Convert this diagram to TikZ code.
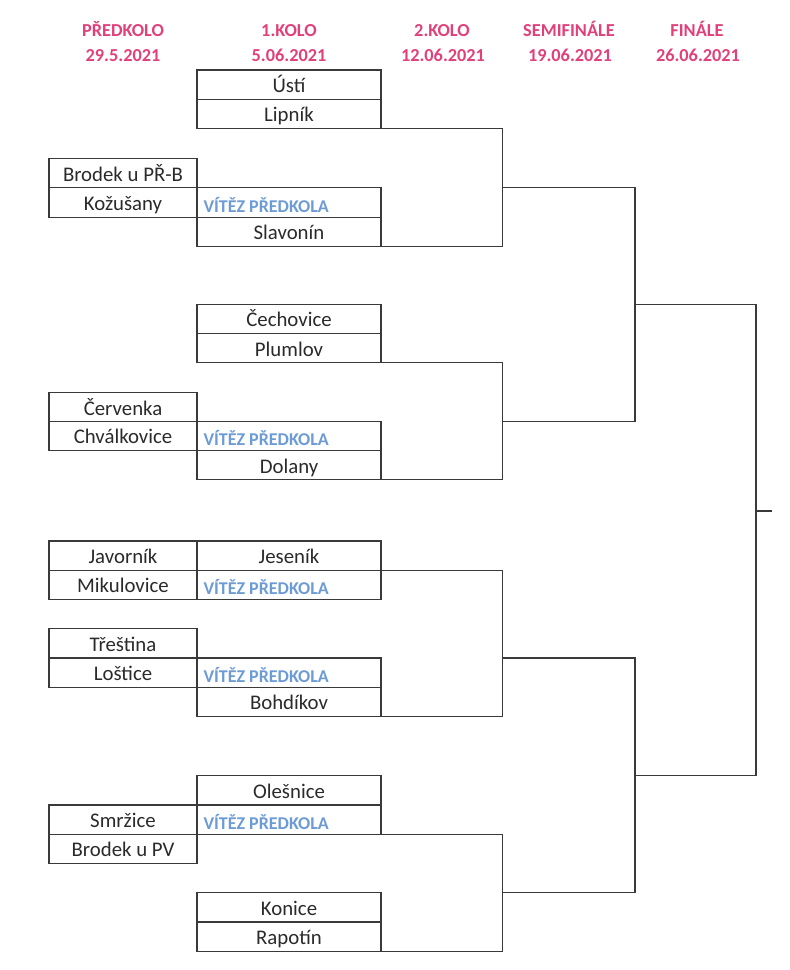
\documentclass[tikz,border=0pt]{standalone}
\usepackage{fontspec}
\setmainfont{Carlito}
\definecolor{hdr}{HTML}{E0417A}
\definecolor{win}{HTML}{6C9BD6}
\definecolor{ink}{HTML}{2A2A2A}
\definecolor{ln}{HTML}{3A3A3A}
\begin{document}
\begin{tikzpicture}[x=1pt,y=-1pt,
  every node/.style={inner sep=0pt, outer sep=0pt},
  hdrtext/.style={text=hdr, font=\fontsize{18.3}{20}\selectfont\bfseries, anchor=base},
  pbox/.style={draw=ln, line width=1.1pt, minimum width=148pt, minimum height=29.3pt, text=ink,
     font=\fontsize{20.8}{22}\selectfont, text height=16pt, text depth=0pt, anchor=north west},
  rbox/.style={pbox, minimum width=184pt},
  wintext/.style={text=win, font=\fontsize{18}{20}\selectfont\bfseries, anchor=base west},
  conn/.style={draw=ln, line width=1.1pt}
]
\useasboundingbox (0,0) rectangle (790,970);
% headers
\node[hdrtext] (h1) at (123,36) {PŘEDKOLO};
\node[hdrtext] (h2) at (289,36) {1.KOLO};
\node[hdrtext] (h3) at (442,36) {2.KOLO};
\node[hdrtext] (h4) at (569,36) {SEMIFINÁLE};
\node[hdrtext] (h5) at (697,36) {FINÁLE};
\node[hdrtext] (d1) at (123,61.5) {29.5.2021};
\node[hdrtext] (d2) at (289,61.5) {5.06.2021};
\node[hdrtext] (d3) at (443,61.5) {12.06.2021};
\node[hdrtext] (d4) at (570,61.5) {19.06.2021};
\node[hdrtext] (d5) at (698,61.5) {26.06.2021};

% block 1
\node[rbox] (usti) at (197,70) {Ústí};
\node[rbox] (lipnik) at (197,99.3) {Lipník};
\node[pbox] (brodekpb) at (49,158.6) {Brodek u PŘ-B};
\node[pbox] (kozusany) at (49,187.9) {Kožušany};
\node[rbox] (v1) at (197,187.9) {};
\node[rbox] (slavonin) at (197,217.2) {Slavonín};
\node[wintext] (w1) at ([xshift=6.5pt,yshift=-24.3pt]v1.north west) {VÍTĚZ PŘEDKOLA};

% block 2
\node[rbox] (cechovice) at (197,304.3) {Čechovice};
\node[rbox] (plumlov) at (197,333.6) {Plumlov};
\node[pbox] (cervenka) at (49,392.6) {Červenka};
\node[pbox] (chvalkovice) at (49,421.1) {Chválkovice};
\node[rbox] (v2) at (197,421.1) {};
\node[rbox] (dolany) at (197,450.4) {Dolany};
\node[wintext] (w2) at ([xshift=6.5pt,yshift=-24.3pt]v2.north west) {VÍTĚZ PŘEDKOLA};

% block 3
\node[pbox] (javornik) at (49,541) {Javorník};
\node[pbox] (mikulovice) at (49,570.3) {Mikulovice};
\node[rbox] (jesenik) at (197,541) {Jeseník};
\node[rbox] (v3) at (197,570.3) {};
\node[wintext] (w3) at ([xshift=6.5pt,yshift=-24.3pt]v3.north west) {VÍTĚZ PŘEDKOLA};
\node[pbox] (trestina) at (49,628.7) {Třeština};
\node[pbox] (lostice) at (49,658) {Loštice};
\node[rbox] (v4) at (197,658) {};
\node[wintext] (w4) at ([xshift=6.5pt,yshift=-24.3pt]v4.north west) {VÍTĚZ PŘEDKOLA};
\node[rbox] (bohdikov) at (197,687.3) {Bohdíkov};

% block 4
\node[rbox] (olesnice) at (197,775.7) {Olešnice};
\node[pbox] (smrzice) at (49,805) {Smržice};
\node[rbox] (v5) at (197,805) {};
\node[wintext] (w5) at ([xshift=6.5pt,yshift=-24.3pt]v5.north west) {VÍTĚZ PŘEDKOLA};
\node[pbox] (brodekpv) at (49,834.3) {Brodek u PV};
\node[rbox] (konice) at (197,892.7) {Konice};
\node[rbox] (rapotin) at (197,922) {Rapotín};

% joints
\coordinate (j1) at (502.5,187.9);
\coordinate (j2) at (502.5,421.1);
\coordinate (j3) at (502.5,658);
\coordinate (j4) at (502.5,892.7);
\coordinate (sa) at (635,304.3);
\coordinate (sb) at (635,775.7);
\coordinate (fj) at (756,511);
\coordinate (fend) at (772,511);

% round 2 brackets
\draw[conn] (lipnik.south east) -| (j1) |- (slavonin.south east);
\draw[conn] (plumlov.south east) -| (j2) |- (dolany.south east);
\draw[conn] (v3.north east) -| (j3) |- (bohdikov.south east);
\draw[conn] (v5.south east) -| (j4) |- (rapotin.south east);
% semifinal brackets
\draw[conn] (j1) -| (sa) |- (j2);
\draw[conn] (j3) -| (sb) |- (j4);
% final
\draw[conn] (sa) -| (fj) |- (sb);
\draw[conn] (fj) -- (fend);
\end{tikzpicture}
\end{document}
